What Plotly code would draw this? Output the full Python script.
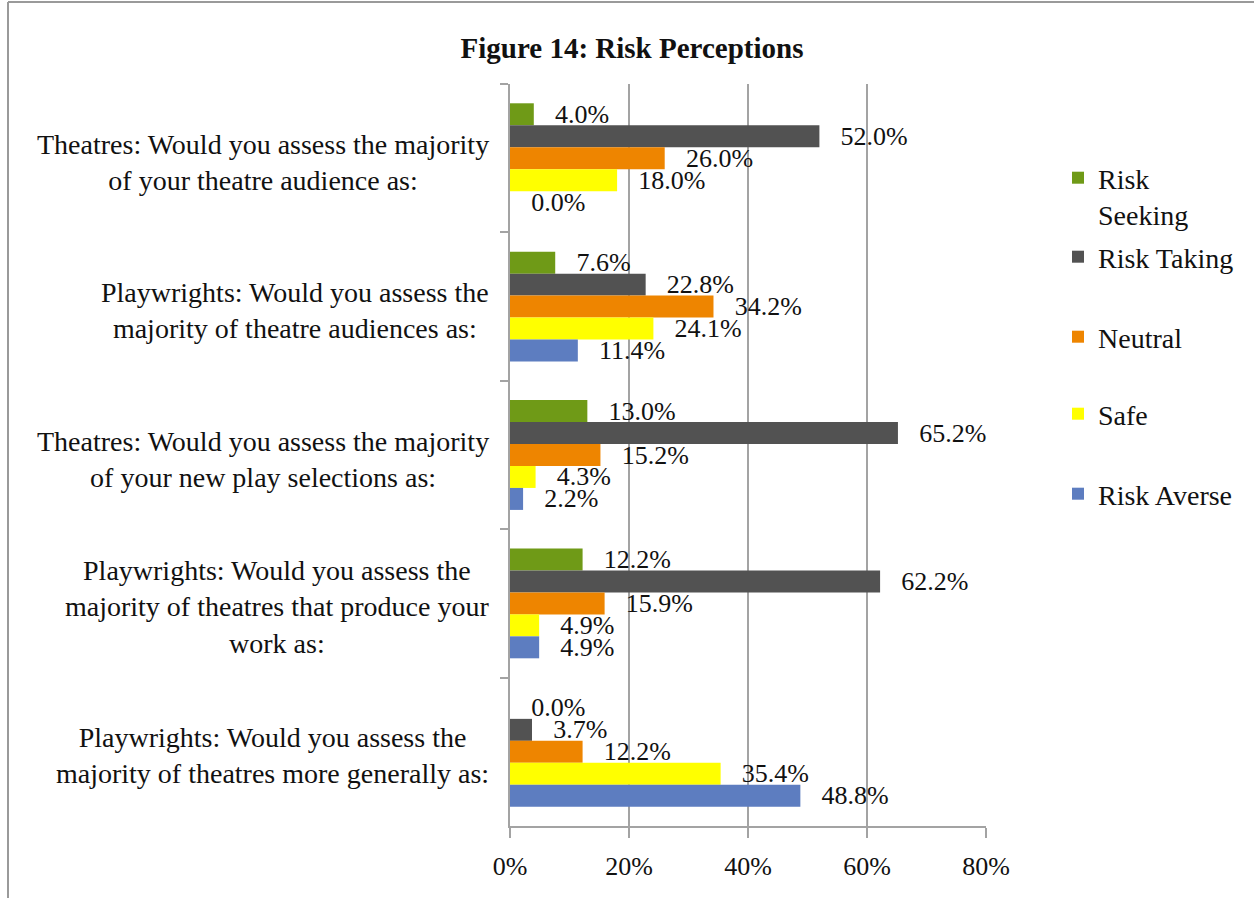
import plotly.graph_objects as go

# Survey questions (top to bottom) and response shares in percent
categories = [
    "Theatres: Would you assess the majority<br>of your theatre audience as:",
    "Playwrights: Would you assess the<br>majority of theatre audiences as:",
    "Theatres: Would you assess the majority<br>of your new play selections as:",
    "Playwrights: Would you assess the<br>majority of theatres that produce your<br>work as:",
    "Playwrights: Would you assess the<br>majority of theatres more generally as:",
]
risk_seeking = [4.0, 7.6, 13.0, 12.2, 0.0]
risk_taking = [52.0, 22.8, 65.2, 62.2, 3.7]
neutral = [26.0, 34.2, 15.2, 15.9, 12.2]
safe = [18.0, 24.1, 4.3, 4.9, 35.4]
risk_averse = [0.0, 11.4, 2.2, 4.9, 48.8]

x_ticks = [0, 20, 40, 60, 80]
x_tick_labels = ["0%", "20%", "40%", "60%", "80%"]

FONT = "Liberation Serif, Times New Roman, serif"
W, H = 1254, 898
L, R, T, B = 510, 986, 84, 826


def px_x(px):
    return (px - L) / (R - L)


def px_y(py):
    return (B - py) / (B - T)


series = [
    ("Risk<br>Seeking", risk_seeking, "#6F9A17", "legend"),
    ("Risk Taking", risk_taking, "#525252", "legend2"),
    ("Neutral", neutral, "#EE8500", "legend3"),
    ("Safe", safe, "#FFFF00", "legend4"),
    ("Risk Averse", risk_averse, "#5D7DC0", "legend5"),
]

fig = go.Figure()
for name, vals, color, leg in series:
    fig.add_trace(go.Bar(
        y=categories, x=vals, name=name, orientation="h",
        marker=dict(color=color, line=dict(width=0)),
        texttemplate="\u00a0\u00a0\u2009%{x:.1f}%", textposition="outside",
        constraintext="none", cliponaxis=False,
        textfont=dict(family=FONT, size=26, color="#111111"),
        legend=leg, hoverinfo="skip",
    ))

# Question labels: block right-aligned against the axis, lines centred
for cat in categories:
    fig.add_annotation(
        x=px_x(491), xref="paper", y=cat, yref="y", yshift=-4,
        text=cat, showarrow=False, xanchor="right", align="center",
        font=dict(family=FONT, size=28, color="#111111"),
    )

legend_y = {"legend": 196, "legend2": 257, "legend3": 337, "legend4": 414, "legend5": 494}
legend_layout = {}
for key, py in legend_y.items():
    legend_layout[key] = dict(
        x=px_x(1058), xref="paper", xanchor="left",
        y=px_y(py), yref="paper", yanchor="middle",
        font=dict(family=FONT, size=28, color="#111111"),
        bgcolor="rgba(0,0,0,0)", borderwidth=0, valign="top",
        itemclick=False, itemdoubleclick=False,
    )

fig.update_layout(
    width=W, height=H,
    margin=dict(l=L, r=W - R, t=T, b=H - B),
    paper_bgcolor="white", plot_bgcolor="white",
    barmode="group", bargap=0.26, bargroupgap=0,
    showlegend=True,
    title=dict(
        text="<b>Figure 14: Risk Perceptions</b>",
        x=632 / W, xref="container", xanchor="center",
        y=1 - 48 / H, yref="container", yanchor="middle",
        font=dict(family=FONT, size=29, color="#111111"),
    ),
    xaxis=dict(
        range=[0, 80], tickvals=x_ticks, ticktext=x_tick_labels,
        showgrid=True, gridcolor="#A3A3A3", gridwidth=2,
        zeroline=False, showline=True, linecolor="#A3A3A3", linewidth=2,
        ticks="outside", ticklen=10, tickwidth=2, tickcolor="#A3A3A3",
        ticklabelstandoff=6,
        tickfont=dict(family=FONT, size=26, color="#111111"),
        fixedrange=True,
    ),
    yaxis=dict(
        autorange="reversed", showticklabels=False,
        showline=True, linecolor="#A3A3A3", linewidth=2,
        ticks="outside", ticklen=8, tickwidth=2, tickcolor="#A3A3A3",
        tickson="boundaries", showgrid=False, fixedrange=True,
    ),
    shapes=[
        dict(type="line", xref="paper", yref="paper",
             x0=px_x(8), x1=px_x(W + 5), y0=px_y(2), y1=px_y(2),
             line=dict(color="#9A9A9A", width=2)),
        dict(type="line", xref="paper", yref="paper",
             x0=px_x(8), x1=px_x(8), y0=px_y(2), y1=px_y(H + 5),
             line=dict(color="#9A9A9A", width=2)),
    ],
    **legend_layout,
)

fig.write_html("out.html")
